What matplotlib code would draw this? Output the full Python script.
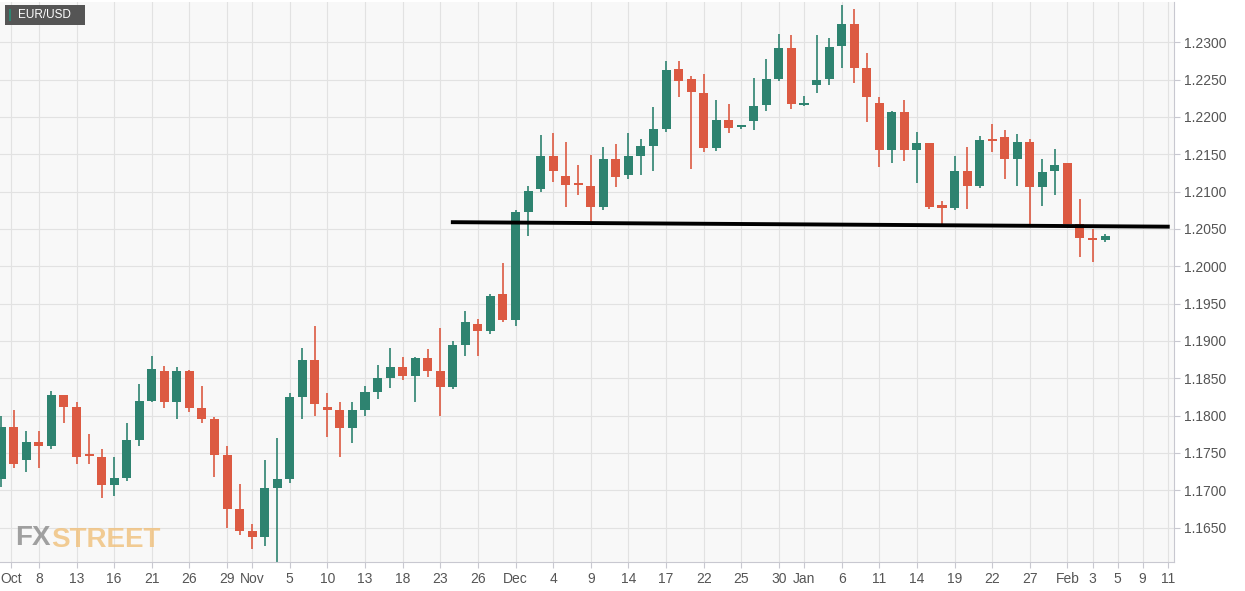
import numpy as np
import pandas as pd
import matplotlib.pyplot as plt
from matplotlib.patches import Rectangle

plt.rcParams['font.family'] = ['Liberation Sans', 'DejaVu Sans']

# EUR/USD daily candles, Oct 5 2020 - Feb 4 2021 (index positions, weekdays)
dates = pd.bdate_range("2020-10-05", "2021-02-04")
opens = [1.1715, 1.1785, 1.1740, 1.1765, 1.1760, 1.1827, 1.1812, 1.1748, 1.1745, 1.1707,
         1.1717, 1.1768, 1.1820, 1.1860, 1.1818, 1.1860, 1.1810, 1.1795, 1.1747, 1.1675,
         1.1645, 1.1637, 1.1703, 1.1715, 1.1825, 1.1875, 1.1811, 1.1808, 1.1783, 1.1808,
         1.1832, 1.1850, 1.1865, 1.1853, 1.1877, 1.1860, 1.1838, 1.1895, 1.1923, 1.1913,
         1.1963, 1.1928, 1.2072, 1.2103, 1.2147, 1.2121, 1.2110, 1.2108, 1.2080, 1.2143,
         1.2122, 1.2148, 1.2161, 1.2184, 1.2264, 1.2251, 1.2232, 1.2158, 1.2196, 1.2186,
         1.2194, 1.2216, 1.2251, 1.2292, 1.2216, 1.2242, 1.2251, 1.2295, 1.2324, 1.2266,
         1.2218, 1.2155, 1.2206, 1.2156, 1.2165, 1.2082, 1.2078, 1.2127, 1.2108, 1.2169,
         1.2173, 1.2143, 1.2167, 1.2106, 1.2127, 1.2138, 1.2056, 1.2038, 1.2035]
highs = [1.1800, 1.1808, 1.1780, 1.1780, 1.1833, 1.1828, 1.1818, 1.1775, 1.1756, 1.1745,
         1.1790, 1.1842, 1.1880, 1.1867, 1.1865, 1.1861, 1.1840, 1.1798, 1.1760, 1.1708,
         1.1655, 1.1740, 1.1770, 1.1830, 1.1890, 1.1920, 1.1830, 1.1818, 1.1818, 1.1840,
         1.1868, 1.1890, 1.1879, 1.1878, 1.1889, 1.1918, 1.1900, 1.1940, 1.1930, 1.1963,
         1.2004, 1.2075, 1.2108, 1.2176, 1.2178, 1.2167, 1.2135, 1.2149, 1.2159, 1.2164,
         1.2178, 1.2170, 1.2213, 1.2275, 1.2275, 1.2255, 1.2258, 1.2223, 1.2217, 1.2188,
         1.2252, 1.2277, 1.2311, 1.2310, 1.2228, 1.2310, 1.2306, 1.2350, 1.2345, 1.2286,
         1.2227, 1.2208, 1.2223, 1.2180, 1.2165, 1.2087, 1.2147, 1.2160, 1.2174, 1.2190,
         1.2183, 1.2177, 1.2171, 1.2143, 1.2157, 1.2138, 1.2090, 1.2050, 1.2043]
lows = [1.1705, 1.1730, 1.1725, 1.1730, 1.1755, 1.1790, 1.1735, 1.1735, 1.1690, 1.1693,
        1.1712, 1.1760, 1.1818, 1.1810, 1.1796, 1.1805, 1.1790, 1.1718, 1.1650, 1.1640,
        1.1622, 1.1625, 1.1603, 1.1710, 1.1795, 1.1800, 1.1772, 1.1745, 1.1764, 1.1800,
        1.1822, 1.1837, 1.1848, 1.1818, 1.1852, 1.1800, 1.1835, 1.1880, 1.1880, 1.1909,
        1.1925, 1.1920, 1.2041, 1.2100, 1.2113, 1.2080, 1.2096, 1.2059, 1.2075, 1.2106,
        1.2117, 1.2122, 1.2127, 1.2180, 1.2226, 1.2130, 1.2153, 1.2154, 1.2179, 1.2184,
        1.2183, 1.2208, 1.2248, 1.2211, 1.2214, 1.2232, 1.2242, 1.2266, 1.2246, 1.2193,
        1.2133, 1.2138, 1.2141, 1.2112, 1.2077, 1.2056, 1.2075, 1.2077, 1.2105, 1.2153,
        1.2117, 1.2108, 1.2057, 1.2081, 1.2096, 1.2056, 1.2012, 1.2006, 1.2033]
closes = [1.1785, 1.1735, 1.1765, 1.1760, 1.1827, 1.1812, 1.1745, 1.1746, 1.1707, 1.1717,
          1.1768, 1.1820, 1.1862, 1.1818, 1.1860, 1.1810, 1.1795, 1.1747, 1.1675, 1.1645,
          1.1637, 1.1703, 1.1715, 1.1825, 1.1875, 1.1815, 1.1808, 1.1783, 1.1808, 1.1832,
          1.1850, 1.1865, 1.1853, 1.1877, 1.1860, 1.1838, 1.1895, 1.1925, 1.1913, 1.1960,
          1.1928, 1.2072, 1.2101, 1.2147, 1.2128, 1.2109, 1.2109, 1.2080, 1.2144, 1.2119,
          1.2148, 1.2161, 1.2184, 1.2263, 1.2248, 1.2233, 1.2158, 1.2196, 1.2185, 1.2186,
          1.2214, 1.2251, 1.2292, 1.2217, 1.2216, 1.2250, 1.2294, 1.2324, 1.2266, 1.2227,
          1.2155, 1.2206, 1.2156, 1.2165, 1.2079, 1.2078, 1.2127, 1.2108, 1.2169, 1.2168,
          1.2143, 1.2167, 1.2106, 1.2126, 1.2135, 1.2057, 1.2038, 1.2035, 1.2040]

tick_dates = ["2020-10-05", "2020-10-08", "2020-10-13", "2020-10-16", "2020-10-21", "2020-10-26",
              "2020-10-29", "2020-11-02", "2020-11-05", "2020-11-10", "2020-11-13", "2020-11-18",
              "2020-11-23", "2020-11-26", "2020-12-01", "2020-12-04", "2020-12-09", "2020-12-14",
              "2020-12-17", "2020-12-22", "2020-12-25", "2020-12-30", "2021-01-01", "2021-01-06",
              "2021-01-11", "2021-01-14", "2021-01-19", "2021-01-22", "2021-01-27", "2021-02-01",
              "2021-02-03", "2021-02-05", "2021-02-09", "2021-02-11"]
tick_labels = ["Oct", "8", "13", "16", "21", "26", "29", "Nov", "5", "10", "13", "18", "23", "26",
               "Dec", "4", "9", "14", "17", "22", "25", "30", "Jan", "6", "11", "14", "19", "22",
               "27", "Feb", "3", "5", "9", "11"]

# support line
line_dates = ["2020-11-24", "2021-02-11"]
line_levels = [1.2059, 1.2053]

all_days = pd.bdate_range("2020-10-05", "2021-02-12")
pos = {d: i for i, d in enumerate(all_days)}
x = np.array([pos[d] for d in dates])

green = "#2e8370"
red = "#dc5a42"

fig = plt.figure(figsize=(12.45, 5.91), dpi=100)
ax = fig.add_axes([0, 0.049, 0.943, 0.947])
ax.set_facecolor("#f8f8f8")

o = np.array(opens); c = np.array(closes); h = np.array(highs); l = np.array(lows)
cols = np.where(c >= o, green, red)
ax.vlines(x, l, h, colors=cols, linewidth=1.2, zorder=2)
body = np.maximum(np.abs(c - o), 0.00025)
ax.bar(x, body, bottom=np.minimum(o, c), width=0.72, color=cols, zorder=3)

lx = [pos[pd.Timestamp(d)] for d in line_dates]
ax.plot(lx, line_levels, color="black", linewidth=2.8, zorder=4)

ticks = [pos[pd.Timestamp(d)] for d in tick_dates]
ticks[0] = 0.8  # first label sits just inside the left edge
ax.set_xticks(ticks)
ax.set_xticklabels(tick_labels)
ax.set_xlim(-0.1, 93.5)
ax.set_ylim(1.16040, 1.23533)
yt = np.arange(1.165, 1.2301, 0.005)
ax.set_yticks(yt)
ax.set_yticklabels([f"{v:.4f}" for v in yt])
ax.yaxis.tick_right()
ax.tick_params(axis="both", colors="#555555", labelsize=10, length=4, color="#c8c8d0")
ax.grid(True, color="#e2e2e2", linewidth=0.8, zorder=0)
for s in ["left", "top"]:
    ax.spines[s].set_visible(False)
for s in ["right", "bottom"]:
    ax.spines[s].set_color("#c8c8d0")

# legend badge
fig.patches.append(Rectangle((5, 566), 80, 20, transform=None, facecolor="#555555",
                             edgecolor="none", figure=fig))
fig.patches.append(Rectangle((9, 570), 2, 12, transform=None, facecolor=green,
                             edgecolor="none", figure=fig))
fig.text(18 / 1245, 576 / 591, "EUR/USD", color="white", fontsize=8.5, va="center", ha="left")

# watermark
fx = fig.text(0.012, 0.078, "FX", color="#8a8a8a", fontsize=20, fontweight="bold", alpha=0.8)
fig.canvas.draw()
fig.text(0, 0, "STREET", color="#f0c07a", fontsize=20, fontweight="bold", alpha=0.8,
         transform=fx.get_transform() + __import__("matplotlib").transforms.Affine2D().translate(
             fx.get_window_extent().x1 + 1, fx.get_window_extent().y0 + 4))

fig.savefig("out.png", dpi=100)
